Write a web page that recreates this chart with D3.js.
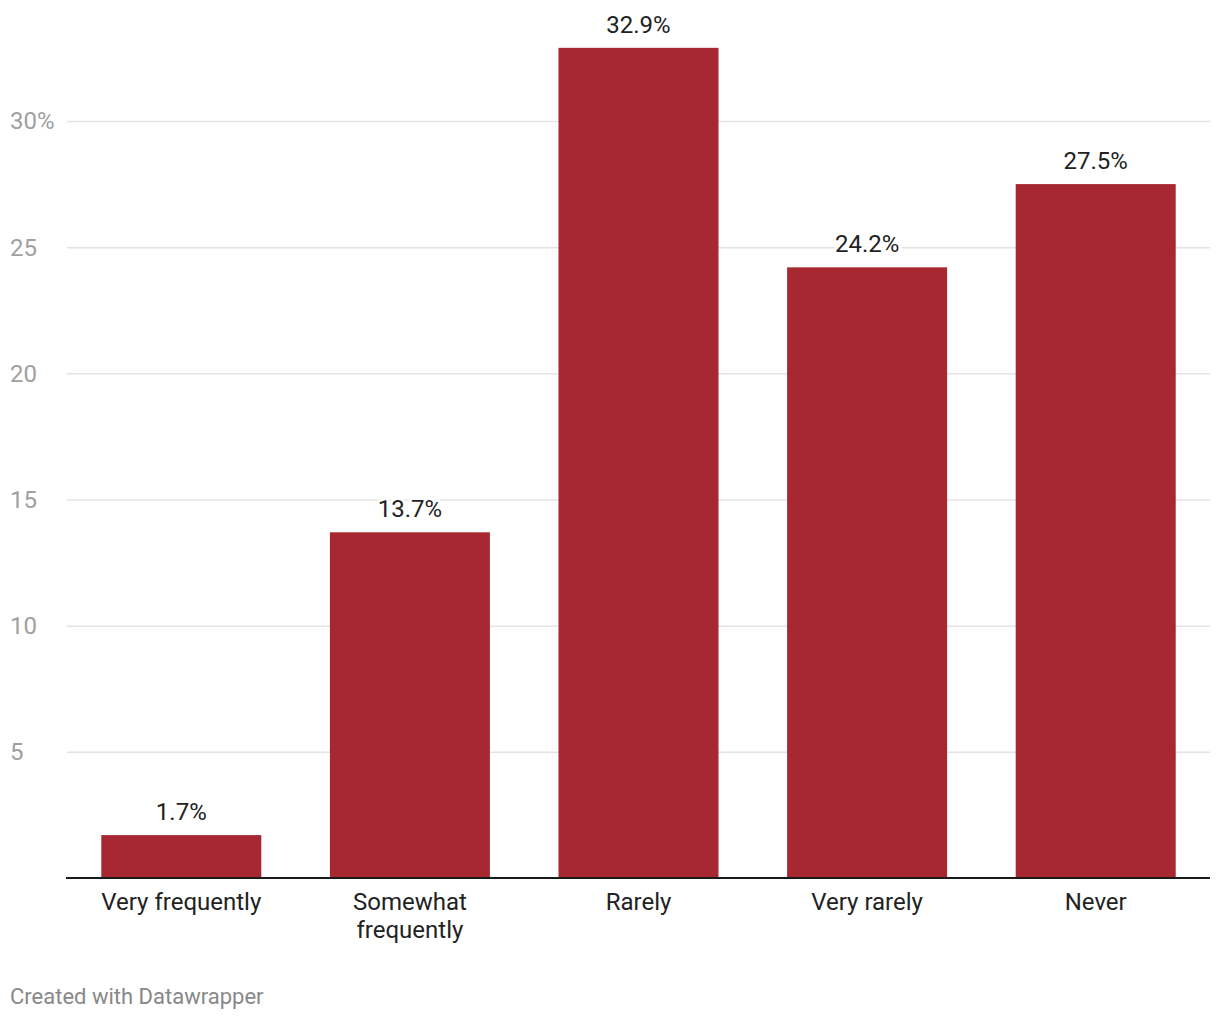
<!DOCTYPE html>
<html><head><meta charset="utf-8">
<script src="https://cdn.jsdelivr.net/npm/d3@7"></script>
<style>
body{margin:0;background:#fff;font-family:Roboto,"Noto Sans",sans-serif;}
</style></head>
<body>
<svg id="chart" width="1220" height="1020"></svg>
<script>
const categories = [["Very frequently"], ["Somewhat", "frequently"], ["Rarely"], ["Very rarely"], ["Never"]];
const values = [1.7, 13.7, 32.9, 24.2, 27.5];
const tickValues = [5, 10, 15, 20, 25, 30];

const svg = d3.select("#chart");
const mLeft = 67, mRight = 1210, mTop = 121, mBottom = 878;
const x = d3.scaleBand().domain(d3.range(values.length)).range([mLeft, mRight]).paddingInner(0.3).paddingOuter(0.15);
const y = d3.scaleLinear().domain([0, 30]).range([mBottom, mTop]);

// gridlines
const grid = svg.append("g").attr("transform", `translate(${mLeft},0)`)
  .call(d3.axisRight(y).tickValues(tickValues).tickSize(mRight - mLeft).tickFormat(""));
grid.select(".domain").remove();
grid.selectAll("line").attr("stroke", "#e3e3e3").attr("stroke-width", 1.5);

// tick labels
svg.append("g").selectAll("text").data(tickValues).join("text")
  .attr("x", 10).attr("y", d => y(d)).attr("dy", "0.35em")
  .attr("font-size", 24).attr("fill", "#a0a0a0")
  .text(d => d === 30 ? d + "%" : d);

// bars
svg.append("g").selectAll("rect").data(values).join("rect")
  .attr("x", (d, i) => x(i)).attr("width", x.bandwidth())
  .attr("y", d => y(d)).attr("height", d => y(0) - y(d))
  .attr("fill", "#a82832");

// value labels with white halo
const vl = svg.append("g").selectAll("g").data(values).join("g")
  .attr("transform", (d, i) => `translate(${x(i) + x.bandwidth() / 2},${y(d) - 15})`);
vl.append("text").attr("text-anchor", "middle").attr("font-size", 24)
  .attr("stroke", "#fff").attr("stroke-width", 6).attr("stroke-linejoin", "round")
  .attr("fill", "#fff").text(d => d.toFixed(1) + "%");
vl.append("text").attr("text-anchor", "middle").attr("font-size", 24)
  .attr("fill", "#222").text(d => d.toFixed(1) + "%");

// baseline
svg.append("line").attr("x1", mLeft - 1).attr("x2", mRight).attr("y1", y(0)).attr("y2", y(0))
  .attr("stroke", "#1a1a1a").attr("stroke-width", 2);

// category labels
const cl = svg.append("g").selectAll("text").data(categories).join("text")
  .attr("text-anchor", "middle").attr("font-size", 24).attr("fill", "#222")
  .attr("transform", (d, i) => `translate(${x(i) + x.bandwidth() / 2},${y(0) + 32})`);
cl.selectAll("tspan").data(d => d).join("tspan")
  .attr("x", 0).attr("dy", (d, j) => j === 0 ? 0 : 28).text(d => d);

// footer
svg.append("text").attr("x", 10).attr("y", 1004).attr("font-size", 22).attr("fill", "#888")
  .text("Created with Datawrapper");
</script>
</body></html>
